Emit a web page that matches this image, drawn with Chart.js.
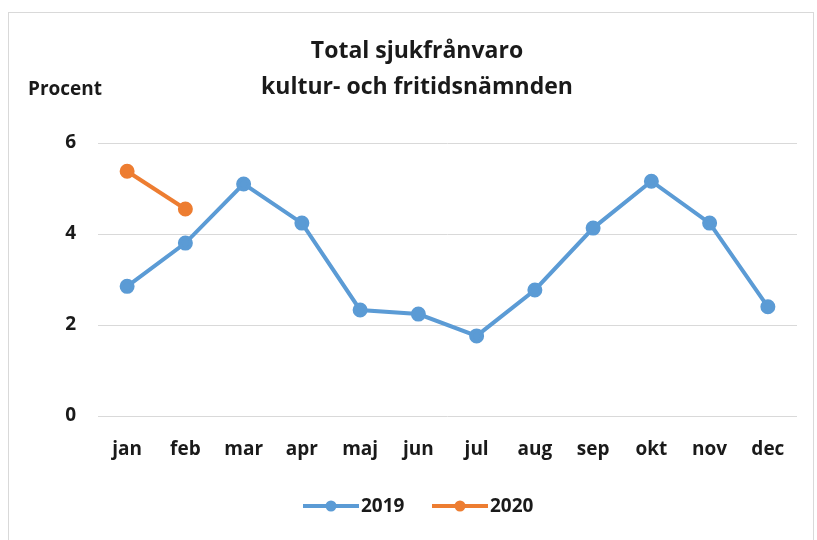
<!DOCTYPE html>
<html>
<head>
<meta charset="utf-8">
<script src="https://cdn.jsdelivr.net/npm/chart.js@4"></script>
<style>
  body { margin: 0; background: #fff; }
  #frame { position: absolute; left: 8px; top: 12px; width: 806px; height: 540px; border: 1px solid #d9d9d9; box-sizing: border-box; }
  #sickChart { position: absolute; left: 0; top: 0; }
</style>
</head>
<body>
<div id="frame"></div>
<canvas id="sickChart" width="817" height="540"></canvas>
<script>
const months = ['jan', 'feb', 'mar', 'apr', 'maj', 'jun', 'jul', 'aug', 'sep', 'okt', 'nov', 'dec'];
const values2019 = [2.85, 3.8, 5.1, 4.24, 2.33, 2.24, 1.76, 2.77, 4.13, 5.16, 4.24, 2.4];
const values2020 = [5.38, 4.55, null, null, null, null, null, null, null, null, null, null];
const seriesNames = ['2019', '2020'];
const titleLines = ['Total sjukfrånvaro', 'kultur- och fritidsnämnden'];
const yLabel = 'Procent';

const blue = '#5b9bd5';
const orange = '#ed7d31';
const textCol = '#1a1a1a';
const fontFam = '"Open Sans", Lato, sans-serif';

// title, "Procent" and the legend are drawn by hand to keep Excel's layout
const extras = {
  id: 'extras',
  afterDraw(chart) {
    const ctx = chart.ctx;
    ctx.save();
    ctx.fillStyle = textCol;
    ctx.textBaseline = 'alphabetic';
    ctx.textAlign = 'center';
    ctx.font = 'bold 23px ' + fontFam;
    ctx.fillText(titleLines[0], 417, 58);
    ctx.fillText(titleLines[1], 417, 94);
    ctx.textAlign = 'left';
    ctx.font = 'bold 19px ' + fontFam;
    ctx.fillText(yLabel, 28, 95);

    // legend
    ctx.textBaseline = 'middle';
    let x = 303;
    chart.data.datasets.forEach(function(ds) {
      ctx.strokeStyle = ds.borderColor;
      ctx.lineWidth = 4;
      ctx.beginPath();
      ctx.moveTo(x, 506);
      ctx.lineTo(x + 56, 506);
      ctx.stroke();
      ctx.fillStyle = ds.borderColor;
      ctx.beginPath();
      ctx.arc(x + 28, 506, 5.5, 0, Math.PI * 2);
      ctx.fill();
      ctx.fillStyle = textCol;
      ctx.fillText(ds.label, x + 58, 507);
      x += 129;
    });
    ctx.restore();
  }
};

const sickChart = new Chart(document.getElementById('sickChart'), {
  type: 'line',
  data: {
    labels: months,
    datasets: [{
        label: seriesNames[0],
        data: values2019,
        borderColor: blue,
        backgroundColor: blue,
        borderWidth: 4,
        pointRadius: 5.5,
        pointHoverRadius: 5.5,
        tension: 0
      },
      {
        label: seriesNames[1],
        data: values2020,
        borderColor: orange,
        backgroundColor: orange,
        borderWidth: 4,
        pointRadius: 5.5,
        pointHoverRadius: 5.5,
        tension: 0
      }
    ]
  },
  options: {
    responsive: false,
    animation: false,
    devicePixelRatio: 1,
    layout: {
      padding: { top: 143, right: 20, bottom: 0, left: 0 }
    },
    scales: {
      y: {
        min: 0,
        max: 6,
        afterFit: function(scale) { scale.width = 98; },
        ticks: {
          stepSize: 2,
          padding: 22,
          color: textCol,
          font: { family: fontFam, size: 19, weight: 'bold' }
        },
        grid: { color: '#d9d9d9', lineWidth: 1, drawTicks: false },
        border: { display: false }
      },
      x: {
        offset: true,
        afterFit: function(scale) { scale.height = 124; },
        ticks: {
          padding: 22,
          color: textCol,
          font: { family: fontFam, size: 19, weight: 'bold' }
        },
        grid: { display: false, drawTicks: false },
        border: { display: false }
      }
    },
    plugins: {
      legend: { display: false },
      title: { display: false },
      tooltip: { enabled: false }
    }
  },
  plugins: [extras]
});
</script>
</body>
</html>
